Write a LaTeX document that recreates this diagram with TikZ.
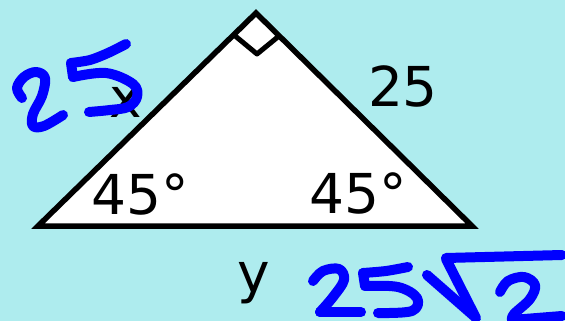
\documentclass[tikz,border=0pt]{standalone}
\usepackage{fontspec}
\setmainfont{DejaVu Sans}
\definecolor{bgcyan}{RGB}{174,236,238}
\definecolor{penblue}{RGB}{0,0,255}
\begin{document}
\begin{tikzpicture}[x=1pt,y=-1pt,
  lbl/.style={inner sep=0pt, font=\fontsize{55}{60}\selectfont, text=black},
  edge/.style={line width=5.5pt, line join=miter, draw=black},
  pen/.style={line width=10pt, line cap=round, line join=round, draw=penblue}]
\fill[bgcyan] (0,0) rectangle (565,321);
\useasboundingbox (0,0) rectangle (565,321);
\coordinate (A) at (38,226);
\coordinate (T) at (256,13);
\coordinate (B) at (472,226);
\filldraw[edge, fill=white] (A) -- (T) -- (B) -- cycle;
% right angle marker
\coordinate (m1) at (234,35);
\coordinate (m2) at (257,54);
\coordinate (m3) at (279,36);
\draw[line width=5pt, line join=round] (m1) -- (m2) -- (m3);
% labels
\node[lbl] (x) at (126,102) {x};
\node[lbl] (s25) at (403,86) {25};
\node[lbl] (aL) at (140,194) {45°};
\node[lbl] (aR) at (358,193) {45°};
\node[lbl] (y) at (254,283) {y};
% handwritten 25 (left)
\draw[pen] plot[smooth, tension=0.6] coordinates {(22,98) (17,88) (24,77) (36,72) (45,78) (42,96) (33,114) (33,126) (44,126) (63,115)};
\draw[pen] plot[smooth, tension=0.5] coordinates {(126,44) (108,53) (90,60) (71,63)};
\draw[pen] (71,63) -- (73,77);
\draw[pen] plot[smooth, tension=0.6] coordinates {(73,77) (106,73) (133,84) (137,97) (128,107) (110,110) (89,112)};
% handwritten 25 sqrt 2 (bottom right)
\draw[pen] plot[smooth, tension=0.6] coordinates {(313,281) (323,271) (339,269) (344,280) (333,297) (320,312)};
\draw[pen] (320,312) -- (361,312);
\draw[pen] plot[smooth, tension=0.5] coordinates {(408,267) (386,271) (363,273)};
\draw[pen] (363,273) -- (365,286);
\draw[pen] plot[smooth, tension=0.6] coordinates {(365,286) (398,287) (417,298) (412,311) (378,313)};
\draw[pen] (427,275) -- (475,317);
\draw[pen] (446,259) -- (476,318);
\draw[pen] (446,258) -- (562,255);
\draw[pen] plot[smooth, tension=0.6] coordinates {(500,292) (508,281) (524,277) (535,285) (530,299) (514,314) (512,320)};
\draw[pen] (512,320) -- (562,316);
\end{tikzpicture}
\end{document}
